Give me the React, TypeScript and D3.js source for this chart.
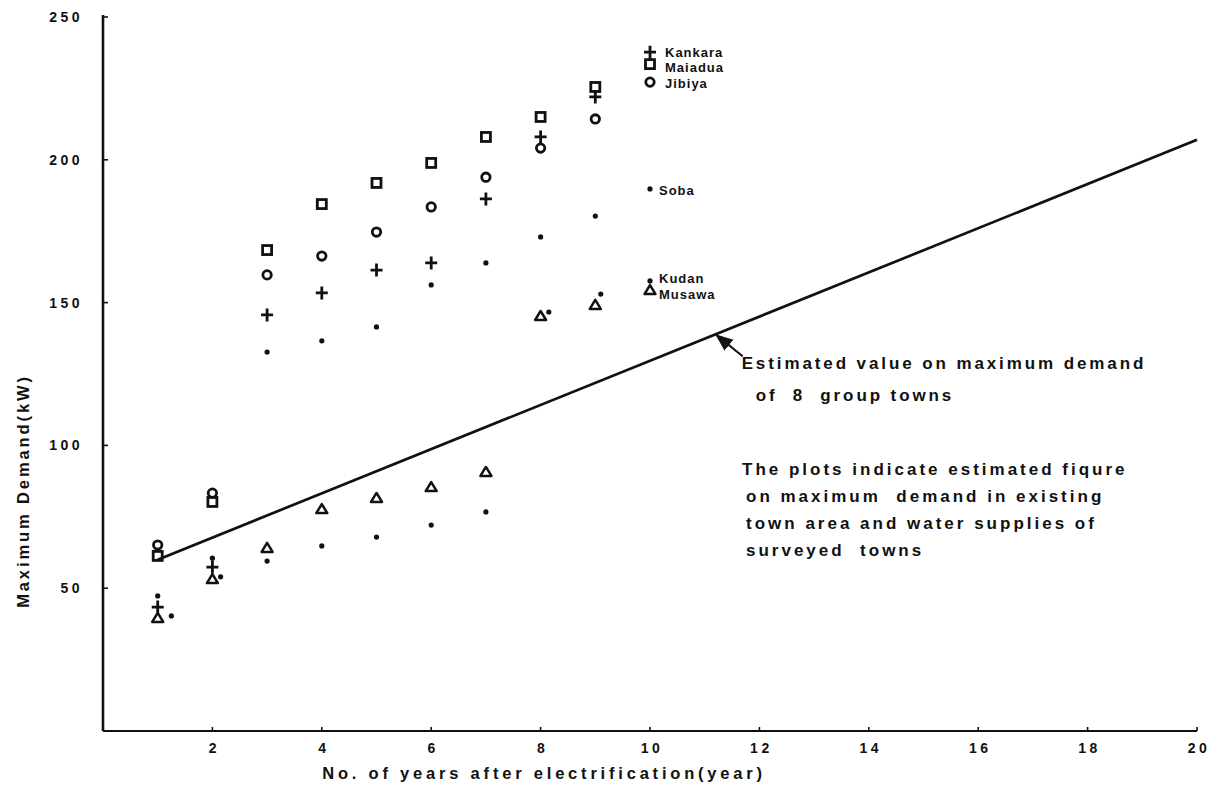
import React from "react";
import * as d3 from "d3";

const years = [1, 2, 3, 4, 5, 6, 7, 8, 9, 10];
const kankara = [43.4, 57.4, 145.7, 153.4, 161.4, 163.9, 186.3, 208, 222, 237.7];
const maiadua = [61.3, 80.2, 168.4, 184.5, 191.9, 198.9, 208, 215, 225.5, 233.5];
const jibiya = [65.1, 83.3, 159.7, 166.3, 174.7, 183.5, 193.9, 204.1, 214.3, 227.2];
const soba = [47.3, 60.5, 132.7, 136.6, 141.5, 156.2, 163.9, 173, 180.3, 189.8];
const kudanYears = [1.25, 2.15, 3, 4, 5, 6, 7, 8.15, 9.1, 10];
const kudan = [40.3, 54, 59.5, 64.8, 67.9, 72.1, 76.7, 146.7, 153, 157.6];
const musawa = [39.6, 53.2, 64.1, 77.7, 81.6, 85.4, 90.7, 145.3, 149.2, 154.4];

const lineYears = [1, 20];
const lineValues = [60, 207];

const xTicks = [2, 4, 6, 8, 10, 12, 14, 16, 18, 20];
const yTicks = [50, 100, 150, 200, 250];

const xTitle = "No. of years after electrification(year)";
const yTitle = "Maximum Demand(kW)";
const lineNote = ["Estimated value on maximum demand", "of  8  group towns"];
const plotNote = [
  "The plots indicate estimated fiqure",
  "on maximum  demand in existing",
  "town area and water supplies of",
  "surveyed  towns",
];

const W = 1225;
const H = 799;
const FONT = "'Liberation Sans', Arial, sans-serif";

export default function App() {
  const x = d3.scaleLinear().domain([0, 20]).range([103, 1197]);
  const y = d3.scaleLinear().domain([0, 250]).range([731, 17]);
  const ink = "#111";

  const line = d3
    .line<number>()
    .x((_, i) => x(lineYears[i]))
    .y((d) => y(d));

  const plusPath = (cx: number, cy: number) =>
    `M${cx - 6},${cy}H${cx + 6}M${cx},${cy - 6.5}V${cy + 6.5}`;
  const triPath = (cx: number, cy: number) =>
    `M${cx - 5.5},${cy + 4}L${cx + 5.5},${cy + 4}L${cx},${cy - 5}Z`;

  const annX = 11.2;
  const annY = lineValues[0] + ((lineValues[1] - lineValues[0]) * (annX - lineYears[0])) / (lineYears[1] - lineYears[0]);
  const ax = x(annX);
  const ay = y(annY);

  const labelX = x(10) + 15;
  const labelStyle = { fontFamily: FONT, fontWeight: 700, fontSize: 13, letterSpacing: 1 } as const;

  return (
    <svg width={W} height={H} style={{ position: "absolute", left: 0, top: 0, background: "#fff" }}>
      <defs>
        <marker id="ah" viewBox="0 0 10 10" refX="9" refY="5" markerWidth="8" markerHeight="8" orient="auto-start-reverse">
          <path d="M0,1L10,5L0,9Z" fill={ink} />
        </marker>
      </defs>
      {/* axes */}
      <g stroke={ink} fill="none">
        <line x1={x(0)} y1={y(0)} x2={x(0)} y2={y(250) - 2} strokeWidth={2.6} />
        <line x1={x(0)} y1={y(0)} x2={x(20)} y2={y(0)} strokeWidth={2.2} />
        {yTicks.map((t) => (
          <line key={"yt" + t} x1={x(0)} x2={x(0) + 5} y1={y(t)} y2={y(t)} strokeWidth={1.6} />
        ))}
        {xTicks.map((t) => (
          <line key={"xt" + t} x1={x(t)} x2={x(t)} y1={y(0)} y2={y(0) - 4} strokeWidth={1.6} />
        ))}
      </g>
      <g style={{ fontFamily: FONT, fontWeight: 700, fontSize: 14, letterSpacing: 3.5 }} fill={ink}>
        {yTicks.map((t) => (
          <text key={"yl" + t} x={x(0) - 20} y={y(t) + 5} textAnchor="end">
            {t}
          </text>
        ))}
        {xTicks.map((t) => (
          <text key={"xl" + t} x={x(t) + 2} y={y(0) + 22} textAnchor="middle">
            {t}
          </text>
        ))}
      </g>
      <text
        x={544}
        y={779}
        textAnchor="middle"
        fill={ink}
        style={{ fontFamily: FONT, fontWeight: 700, fontSize: 16.5, letterSpacing: 3.8 }}
      >
        {xTitle}
      </text>
      <text
        transform={`translate(29,491) rotate(-90)`}
        textAnchor="middle"
        fill={ink}
        style={{ fontFamily: FONT, fontWeight: 700, fontSize: 16.5, letterSpacing: 2.9 }}
      >
        {yTitle}
      </text>

      {/* estimated line */}
      <path d={line(lineValues) || ""} stroke={ink} strokeWidth={2.7} fill="none" />

      {/* markers */}
      <g stroke={ink} strokeWidth={2.8} fill="none">
        {maiadua.map((v, i) => (
          <rect key={"m" + i} x={x(years[i]) - 4.5} y={y(v) - 4.5} width={9} height={9} />
        ))}
        {jibiya.map((v, i) => (
          <circle key={"j" + i} cx={x(years[i])} cy={y(v)} r={4.2} />
        ))}
        {kankara.map((v, i) => (
          <path key={"k" + i} d={plusPath(x(years[i]), y(v))} strokeWidth={2.8} />
        ))}
        {musawa.map((v, i) => (
          <path key={"mu" + i} d={triPath(x(years[i]), y(v))} strokeWidth={2.5} strokeLinejoin="round" />
        ))}
      </g>
      <g fill={ink}>
        {soba.map((v, i) => (
          <circle key={"s" + i} cx={x(years[i])} cy={y(v)} r={2.6} />
        ))}
        {kudan.map((v, i) => (
          <circle key={"ku" + i} cx={x(kudanYears[i])} cy={y(v)} r={2.6} />
        ))}
      </g>

      {/* town labels */}
      <g style={labelStyle} fill={ink}>
        <text x={labelX} y={y(kankara[9]) + 5}>Kankara</text>
        <text x={labelX} y={y(maiadua[9]) + 8}>Maiadua</text>
        <text x={labelX} y={y(jibiya[9]) + 6}>Jibiya</text>
        <text x={x(10) + 9} y={y(soba[9]) + 6}>Soba</text>
        <text x={x(10) + 9} y={y(kudan[9]) + 2}>Kudan</text>
        <text x={x(10) + 9} y={y(musawa[9]) + 9}>Musawa</text>
      </g>

      {/* annotation for line */}
      <line x1={ax + 27} y1={ay + 22} x2={ax + 1} y2={ay + 1} stroke={ink} strokeWidth={2.2} markerEnd="url(#ah)" />
      <g style={{ fontFamily: FONT, fontWeight: 700, fontSize: 17, letterSpacing: 2.9 }} fill={ink}>
        <text x={ax + 26} y={ay + 35}>{lineNote[0]}</text>
        <text x={ax + 40} y={ay + 67} style={{ whiteSpace: "pre" }}>{lineNote[1]}</text>
      </g>

      <g style={{ fontFamily: FONT, fontWeight: 700, fontSize: 17, letterSpacing: 3.0 }} fill={ink}>
        {plotNote.map((s, i) => (
          <text key={"pn" + i} x={i === 0 ? 742 : 746} y={475 + i * 27} style={{ whiteSpace: "pre" }}>
            {s}
          </text>
        ))}
      </g>
    </svg>
  );
}
